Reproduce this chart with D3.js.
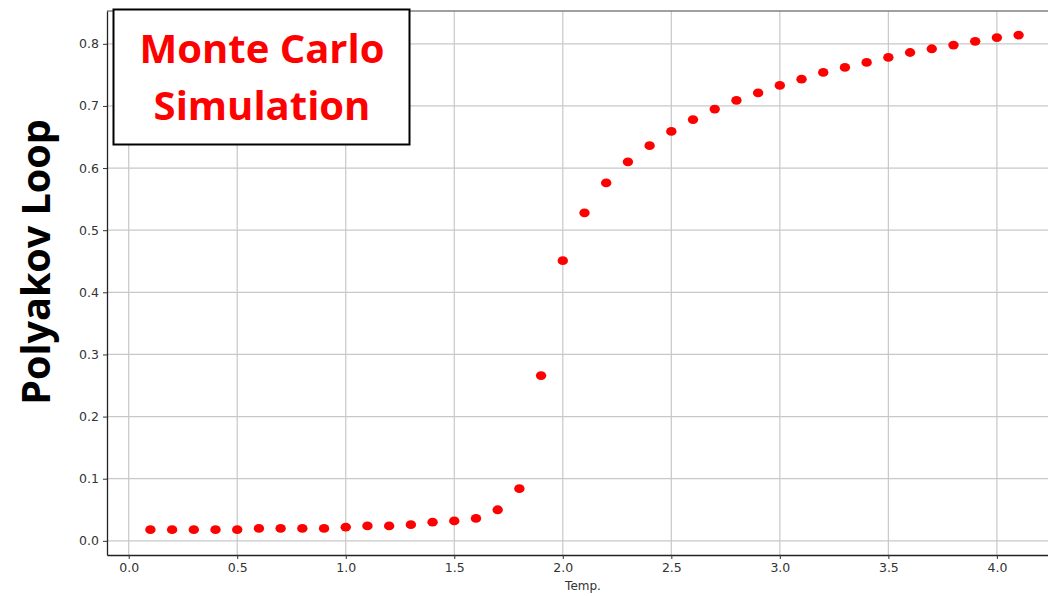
<!DOCTYPE html>
<html>
<head>
<meta charset="utf-8">
<script src="https://cdn.jsdelivr.net/npm/d3@7"></script>
<style>
  html, body { margin: 0; padding: 0; background: #fff; }
  svg { display: block; }
</style>
</head>
<body>
<div id="chart"></div>
<script>
// temperatures and polyakov loop values
const temps = [0.1, 0.2, 0.3, 0.4, 0.5, 0.6, 0.7, 0.8, 0.9, 1.0,
  1.1, 1.2, 1.3, 1.4, 1.5, 1.6, 1.7, 1.8, 1.9, 2.0,
  2.1, 2.2, 2.3, 2.4, 2.5, 2.6, 2.7, 2.8, 2.9, 3.0,
  3.1, 3.2, 3.3, 3.4, 3.5, 3.6, 3.7, 3.8, 3.9, 4.0, 4.1];
const loopValues = [0.018, 0.018, 0.018, 0.018, 0.018, 0.020, 0.020, 0.020, 0.020, 0.022,
  0.024, 0.024, 0.026, 0.030, 0.032, 0.036, 0.050, 0.084, 0.266, 0.451,
  0.528, 0.576, 0.610, 0.636, 0.659, 0.678, 0.695, 0.709, 0.721, 0.733,
  0.743, 0.754, 0.762, 0.770, 0.778, 0.786, 0.792, 0.798, 0.804, 0.810, 0.814];
const xTicks = [0.0, 0.5, 1.0, 1.5, 2.0, 2.5, 3.0, 3.5, 4.0];
const yTicks = [0.0, 0.1, 0.2, 0.3, 0.4, 0.5, 0.6, 0.7, 0.8];

const width = 1048;
const height = 596;
const plotLeft = 107, plotTop = 11, plotRight = 1062, plotBottom = 555;

const svg = d3.select('#chart')
  .append('svg')
  .attr('width', width)
  .attr('height', height);

const x = d3.scaleLinear().domain([-0.1, 4.3]).range([plotLeft, plotRight]);
const y = d3.scaleLinear().domain([-0.0228, 0.8528]).range([plotBottom, plotTop]);

// grid
svg.append('g')
  .selectAll('line')
  .data(xTicks)
  .join('line')
  .attr('x1', (d) => x(d)).attr('x2', (d) => x(d))
  .attr('y1', plotTop).attr('y2', plotBottom)
  .attr('stroke', '#c8c8c8')
  .attr('stroke-width', 1.2);

svg.append('g')
  .selectAll('line')
  .data(yTicks)
  .join('line')
  .attr('x1', plotLeft).attr('x2', plotRight)
  .attr('y1', (d) => y(d)).attr('y2', (d) => y(d))
  .attr('stroke', '#c8c8c8')
  .attr('stroke-width', 1.2);

// top spine
svg.append('line')
  .attr('x1', plotLeft).attr('x2', plotRight)
  .attr('y1', plotTop).attr('y2', plotTop)
  .attr('stroke', '#808080')
  .attr('stroke-width', 1.5);

const xAxis = svg.append('g')
  .attr('transform', `translate(0,${plotBottom})`)
  .call(d3.axisBottom(x).tickValues(xTicks).tickFormat(d3.format('.1f'))
    .tickSizeInner(4).tickSizeOuter(0).tickPadding(4));

const yAxis = svg.append('g')
  .attr('transform', `translate(${plotLeft},0)`)
  .call(d3.axisLeft(y).tickValues(yTicks).tickFormat(d3.format('.1f'))
    .tickSizeInner(4).tickSizeOuter(0).tickPadding(4));

[xAxis, yAxis].forEach((ax) => {
  ax.select('.domain').attr('stroke', '#222').attr('stroke-width', 1.3);
  ax.selectAll('.tick line').attr('stroke', '#333');
  ax.selectAll('.tick text')
    .attr('fill', '#333')
    .style('font-family', 'DejaVu Sans')
    .style('font-size', '12.5px');
});

// points
svg.append('g')
  .selectAll('ellipse')
  .data(temps)
  .join('ellipse')
  .attr('cx', (d) => x(d))
  .attr('cy', (d, i) => y(loopValues[i]))
  .attr('rx', 5.2)
  .attr('ry', 4.4)
  .attr('fill', '#ff0000');

svg.append('text')
  .attr('x', 583)
  .attr('y', 590)
  .attr('text-anchor', 'middle')
  .attr('fill', '#333')
  .style('font-family', 'DejaVu Sans')
  .style('font-size', '12px')
  .text('Temp.');

svg.append('text')
  .attr('transform', 'translate(50,262) rotate(-90)')
  .attr('text-anchor', 'middle')
  .attr('fill', '#000')
  .style('font-family', 'Open Sans')
  .style('font-weight', 'bold')
  .style('font-size', '39.5px')
  .text('Polyakov Loop');

// annotation box
svg.append('rect')
  .attr('x', 113.5).attr('y', 9.5)
  .attr('width', 296).attr('height', 135)
  .attr('fill', '#fff')
  .attr('stroke', '#000')
  .attr('stroke-width', 2);

const title = svg.append('text')
  .attr('text-anchor', 'middle')
  .attr('fill', '#ff0000')
  .style('font-family', 'Open Sans')
  .style('font-weight', 'bold')
  .style('font-size', '40px');
title.append('tspan').attr('x', 262).attr('y', 63).text('Monte Carlo');
title.append('tspan').attr('x', 262).attr('y', 120).text('Simulation');
</script>
</body>
</html>
